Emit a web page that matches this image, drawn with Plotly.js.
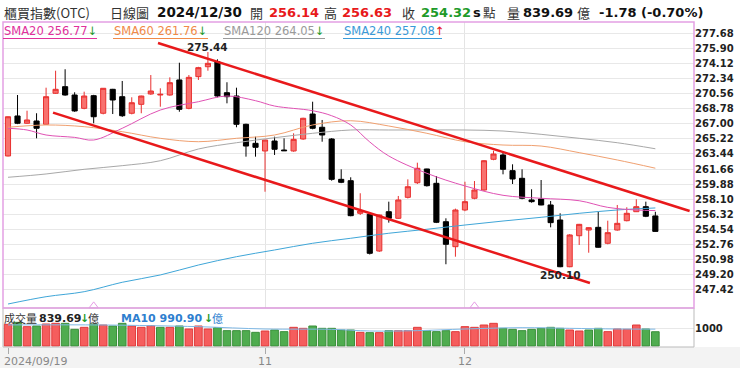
<!DOCTYPE html>
<html><head><meta charset="utf-8">
<script src="https://cdn.plot.ly/plotly-3.0.1.min.js"></script>
<style>html,body{margin:0;padding:0;background:#fff;}#chart{width:740px;height:368px;}</style>
</head><body><div id="chart"></div>
<script>
// ---------- DATA ----------
const dates = [
 '2024-09-19','2024-09-20','2024-09-23','2024-09-24','2024-09-25','2024-09-26','2024-09-27','2024-09-30',
 '2024-10-01','2024-10-04','2024-10-07','2024-10-08','2024-10-09','2024-10-11','2024-10-14','2024-10-15','2024-10-16','2024-10-17','2024-10-18','2024-10-21','2024-10-22','2024-10-23','2024-10-24','2024-10-25','2024-10-28','2024-10-29','2024-10-30',
 '2024-11-01','2024-11-04','2024-11-05','2024-11-06','2024-11-07','2024-11-08','2024-11-11','2024-11-12','2024-11-13','2024-11-14','2024-11-15','2024-11-18','2024-11-19','2024-11-20','2024-11-21','2024-11-22','2024-11-25','2024-11-26','2024-11-27','2024-11-28','2024-11-29',
 '2024-12-02','2024-12-03','2024-12-04','2024-12-05','2024-12-06','2024-12-09','2024-12-10','2024-12-11','2024-12-12','2024-12-13','2024-12-16','2024-12-17','2024-12-18','2024-12-19','2024-12-20','2024-12-23','2024-12-24','2024-12-25','2024-12-26','2024-12-27','2024-12-30'];
const openP  = [263.20,267.91,267.05,267.32,266.93,270.58,271.36,270.38,268.81,270.30,268.23,271.05,270.18,268.23,269.28,270.50,270.38,270.38,272.15,268.81,272.54,273.71,274.30,270.65,270.26,266.93,264.69,
 263.79,264.96,263.90,263.79,265.20,268.14,266.58,265.20,260.45,260.29,256.45,256.33,252.01,256.64,255.86,258.33,260.05,261.67,259.98,255.46,252.52,
 256.84,258.22,259.19,262.81,263.32,261.47,260.57,258.02,258.14,257.43,255.66,250.16,253.81,254.48,254.80,252.92,254.48,255.58,256.64,257.23,256.14];
const highP  = [267.85,270.38,268.53,268.23,271.24,273.24,273.41,270.70,270.77,270.40,271.20,271.10,272.03,270.11,270.30,272.73,271.17,272.46,274.18,272.73,273.70,275.44,274.58,271.88,271.24,267.00,265.47,
 265.10,265.47,265.28,265.87,267.70,269.59,267.44,265.30,261.63,260.69,258.81,256.40,256.30,257.82,258.49,260.45,262.41,261.70,260.84,255.86,257.00,
 260.17,260.25,262.70,263.82,263.70,262.22,261.63,259.28,260.37,257.90,256.45,254.00,255.20,254.80,256.64,255.58,257.43,257.16,258.10,257.82,256.63];
const lowP   = [263.15,266.95,266.98,265.28,266.90,270.50,270.30,268.40,268.70,267.05,268.10,268.14,267.80,268.10,268.23,270.40,269.00,270.30,268.41,268.70,272.15,273.24,270.10,269.40,266.58,263.12,263.12,
 258.99,263.32,263.80,263.70,265.10,266.34,264.88,260.29,260.00,256.10,256.25,251.60,251.90,255.35,255.80,258.20,259.90,259.60,255.30,250.45,251.34,
 256.70,258.10,259.10,262.70,261.04,259.90,258.10,257.70,257.40,254.80,250.10,250.10,252.72,251.81,252.40,252.80,254.40,255.50,256.60,256.00,254.30];
const closeP = [267.82,267.05,267.44,266.46,270.18,271.05,270.38,268.50,270.26,267.82,271.17,269.79,267.94,269.47,270.26,270.85,270.46,271.83,268.69,272.46,273.60,274.11,270.26,270.18,266.93,264.37,264.22,
 265.08,263.99,263.82,265.16,267.64,266.46,265.67,260.45,260.10,256.17,256.72,251.74,256.25,255.86,258.02,259.58,261.75,259.70,255.39,252.80,256.84,
 257.82,259.19,262.64,263.43,261.63,260.49,258.22,257.82,257.43,255.35,250.16,253.90,255.15,254.76,252.45,254.17,255.27,256.45,257.23,256.10,254.32];
// 成交量 (億)
const volume = [1275,1392,1137,1176,1294,1333,1333,980,1098,1294,1235,1176,1333,1176,1098,1196,1098,1098,1176,1000,1176,1000,1078,902,902,902,804,
 882,941,843,1098,1039,1176,1039,1039,941,941,804,784,784,902,902,902,1098,902,843,902,843,
 1137,1098,1235,1333,1039,980,902,980,1039,1098,1039,941,882,941,1039,843,1000,980,1235,1000,839.69];

// moving averages (index = trading-day position)
const sma20Idx = [0,2,4,7,9,12,16,20,23,26,28,32,34,36,38,40,44,48,52,56,60,63,66,68];
const sma20 = [266.46,266.26,265.67,265.39,265.08,266.46,268.61,269.59,270.26,269.71,269.08,268.53,267.94,266.85,264.85,263.20,261.16,259.67,258.57,258.22,257.93,257.15,256.84,256.77];
const maIdx = [0,4,8,12,16,20,24,28,32,36,40,44,48,52,56,60,64,68];
const sma60  = [266.58,266.85,266.65,266.06,265.28,264.88,265.28,265.67,266.85,267.35,266.73,265.87,264.88,264.49,264.37,263.59,262.73,261.76];
const sma120 = [260.69,261.08,261.63,262.06,262.64,264.02,264.76,265.35,265.87,266.26,266.26,266.26,266.26,266.14,265.75,265.28,264.76,264.05];
const sma240 = [245.77,246.63,247.22,248.33,249.19,250.36,251.34,252.13,252.92,253.51,254.10,254.57,255.07,255.54,255.98,256.45,256.84,257.08];
const ma10Idx = [0,10,20,27,34,38,43,48,54,59,64,68];
const ma10 = [1240,1235,1137,1000,980,882,902,1000,1078,1039,1000,990.90];

// channel lines (drawn)
const upperX = [15.76, 71.6], upperY = [276.50, 256.72];
const lowerX = [4.73, 61.13], lowerY = [268.30, 248.24];
const eventIdx = [9, 49], eventY = [245.55, 245.55];

const yTicks = [277.68,275.90,274.12,272.34,270.56,268.78,267.00,265.22,263.44,261.66,259.88,258.10,256.32,254.54,252.76,250.98,249.20,247.42];
const xTickIdx = [0, 27, 48];
const xTickText = ['2024/09/19', '11', '12'];

// ---------- LAYOUT HELPERS ----------
const W=740, H=368, ML=3, MR=46, MT=22, MB=21;
const PW=W-ML-MR, PH=H-MT-MB;
const px = x => (x-ML)/PW;
const py = y => (H-MB-y)/PH;
const idx = dates.map((d,i)=>i);

const RED='#e8191b', GREEN='#1e9a2a';
const CJK = 'Noto Sans CJK TC, DejaVu Sans';
const LAT = 'DejaVu Sans, Noto Sans CJK TC';

const volColors = closeP.map((c,i)=> (i===0 || c>=closeP[i-1]) ? '#f55d5d' : '#4fac4f');
const volLine = closeP.map((c,i)=> (i===0 || c>=closeP[i-1]) ? '#e03a3a' : '#3a8f3a');

const traces = [
 {type:'scatter', mode:'lines', x:maIdx, y:sma240, line:{color:'#3fa6d8', width:1, shape:'spline'}, hoverinfo:'skip'},
 {type:'scatter', mode:'lines', x:maIdx, y:sma120, line:{color:'#a8a8a8', width:1, shape:'spline'}, hoverinfo:'skip'},
 {type:'scatter', mode:'lines', x:maIdx, y:sma60, line:{color:'#f0a070', width:1, shape:'spline'}, hoverinfo:'skip'},
 {type:'scatter', mode:'lines', x:sma20Idx, y:sma20, line:{color:'#e052b4', width:1, shape:'spline'}, hoverinfo:'skip'},
 {type:'candlestick', x:idx, open:openP, high:highP, low:lowP, close:closeP,
  increasing:{line:{color:'#e8302f', width:1}, fillcolor:'#f8716e'},
  decreasing:{line:{color:'#000', width:1}, fillcolor:'#000'}, whiskerwidth:0, hoverinfo:'skip'},
 {type:'scatter', mode:'lines', x:upperX, y:upperY, line:{color:RED, width:2.5}, hoverinfo:'skip'},
 {type:'scatter', mode:'lines', x:lowerX, y:lowerY, line:{color:RED, width:2.5}, hoverinfo:'skip'},
 {type:'scatter', mode:'markers', x:eventIdx, y:eventY, marker:{symbol:'triangle-up-open', size:8, color:'#e69be6', line:{width:1}}, hoverinfo:'skip', cliponaxis:false},
 {type:'bar', x:idx, y:volume, xaxis:'x2', yaxis:'y2', marker:{color:volColors, line:{color:volLine, width:1}}, hoverinfo:'skip'},
 {type:'scatter', mode:'lines', x:ma10Idx, y:ma10, xaxis:'x2', yaxis:'y2', line:{color:'#7fb9e6', width:1, shape:'spline'}, hoverinfo:'skip'}
];

function ann(x, y, text, size, color, family, weight, anchor){
  return {xref:'paper', yref:'paper', x:px(x), y:py(y), xanchor:anchor||'left', yanchor:'middle',
    text:text, showarrow:false, borderpad:0, font:{size:size, color:color, family:family||LAT, weight:weight||'normal'}};
}
const annotations = [
 // header
 ann(3, 12, '櫃買指數(OTC)', 13, '#333', CJK),
 ann(109, 12, '日線圖', 13, '#333', CJK),
 ann(156, 12, '2024/12/30', 13.5, '#111', LAT, 'bold'),
 ann(249, 12, '開', 13, '#333', CJK),
 ann(268, 12, '256.14', 13, RED, LAT, 'bold'),
 ann(323, 12, '高', 13, '#333', CJK),
 ann(341, 12, '256.63', 13, RED, LAT, 'bold'),
 ann(401, 12, '收', 13, '#333', CJK),
 ann(420, 12, '254.32', 13, GREEN, LAT, 'bold'),
 ann(472, 12, 's', 13, '#111', LAT, 'bold'),
 ann(482, 12, '點', 12.5, '#333', CJK),
 ann(506, 12, '量', 13, '#333', CJK),
 ann(522, 12, '839.69', 13, '#111', LAT, 'bold'),
 ann(576, 12, '億', 13, '#333', CJK),
 ann(598, 12, '-1.78 (-0.70%)', 13, '#111', LAT, 'bold'),
 // MA legend row
 ann(3, 31, 'SMA20 256.77<span style="color:'+GREEN+'">↓</span>', 11.5, '#e0309c'),
 ann(113, 31, 'SMA60 261.76<span style="color:'+GREEN+'">↓</span>', 11.5, '#f08a48'),
 ann(223, 31, 'SMA120 264.05<span style="color:'+GREEN+'">↓</span>', 11.5, '#9a9a9a'),
 ann(343, 31, 'SMA240 257.08<span style="color:'+RED+'">↑</span>', 11.5, '#3a9ad8'),
 // volume legend
 ann(3, 318, '成交量', 11, '#333', CJK),
 ann(38, 318, '839.69', 11, '#222', LAT, 'bold'),
 ann(79, 318, '↓', 11, GREEN, LAT, 'bold'),
 ann(87, 318, '億', 11, '#333', CJK),
 ann(120, 318, 'MA10 990.90', 11, '#2f7fcf', LAT, 'bold'),
 ann(203, 318, '↓', 11, GREEN, LAT, 'bold'),
 ann(211, 318, '億', 11, '#2f7fcf', CJK),
 // x labels
 ann(3, 361, xTickText[0], 11, '#888'),
 {xref:'x', yref:'paper', x:xTickIdx[1], y:py(361), xanchor:'center', yanchor:'middle', text:xTickText[1], showarrow:false, font:{size:11, color:'#888', family:LAT}},
 {xref:'x', yref:'paper', x:xTickIdx[2], y:py(361), xanchor:'center', yanchor:'middle', text:xTickText[2], showarrow:false, font:{size:11, color:'#888', family:LAT}},
 // high / low marks
 {xref:'x', yref:'y', x:21, y:highP[21], xanchor:'center', yanchor:'bottom', yshift:-2, borderpad:0, text:highP[21].toFixed(2), showarrow:false, font:{size:10.5, color:'#222', family:LAT, weight:'bold'}},
 {xref:'x', yref:'y', x:58, y:lowP[58], xanchor:'center', yanchor:'top', yshift:0, text:lowP[58].toFixed(2), showarrow:false, font:{size:10.5, color:'#222', family:LAT, weight:'bold'}}
];

function uline(x0, x1, color){
  return {type:'line', xref:'paper', yref:'paper', x0:px(x0), x1:px(x1), y0:py(38.5), y1:py(38.5), line:{color:color, width:1}};
}
const shapes = [
 {type:'rect', xref:'paper', yref:'paper', x0:px(0), x1:px(740), y0:py(368), y1:py(347), fillcolor:'#f3f3f3', line:{width:0}, layer:'below'},
 {type:'rect', xref:'paper', yref:'paper', x0:0, x1:1, y0:0, y1:py(308), line:{color:'#bbbbbb', width:1}, fillcolor:'rgba(0,0,0,0)'},
 {type:'rect', xref:'paper', yref:'paper', x0:0, x1:1, y0:py(308), y1:1, line:{color:'#e4a0e4', width:1.5}, fillcolor:'rgba(0,0,0,0)'},
 uline(3, 97, '#e0309c'), uline(113, 208, '#f08a48'), uline(223, 325, '#9a9a9a'), uline(343, 442, '#3a9ad8')
];

const layout = {
 width:W, height:H, margin:{l:ML, r:MR, t:MT, b:MB, pad:0},
 paper_bgcolor:'#fff', plot_bgcolor:'#fff', showlegend:false,
 font:{family:LAT, size:11, color:'#333'},
 boxgap:0.23, bargap:0.2,
 xaxis:{domain:[0,1], anchor:'y', range:[-0.525, 72.06], tickvals:[27,48], showticklabels:false, showgrid:true,
   gridcolor:'#e4e4e4', zeroline:false, ticks:'', showline:false, rangeslider:{visible:false}, fixedrange:true},
 yaxis:{domain:[py(308),1], anchor:'x', side:'right', range:[245.30, 278.975], tickvals:yTicks, ticktext:yTicks.map(v=>v.toFixed(2)),
   tickfont:{family:LAT, size:10, color:'#222', weight:'bold'}, gridcolor:'#e8e8e8', zeroline:false, ticks:'', showline:false, fixedrange:true},
 xaxis2:{domain:[0,1], anchor:'y2', matches:'x', tickvals:xTickIdx, ticks:'outside', ticklen:6, tickcolor:'#aaa', showticklabels:false,
   showgrid:false, zeroline:false, showline:false},
 yaxis2:{domain:[0, py(309)], anchor:'x2', side:'right', range:[-59, 2176], tickvals:[1000], ticktext:['1000'],
   tickfont:{family:LAT, size:10, color:'#222', weight:'bold'}, gridcolor:'#e8e8e8', zeroline:false, ticks:'', showline:false},
 annotations:annotations, shapes:shapes
};

Plotly.newPlot('chart', traces, layout, {staticPlot:true, displayModeBar:false});
</script></body></html>
